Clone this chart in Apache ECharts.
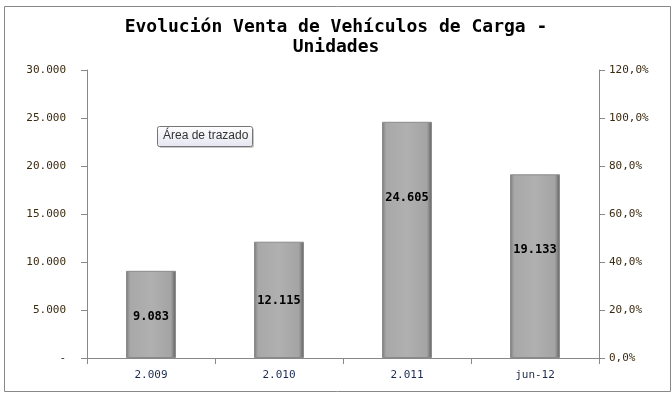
<!DOCTYPE html>
<html><head><meta charset="utf-8">
<script src="https://cdn.jsdelivr.net/npm/echarts@6/dist/echarts.min.js"></script>
<style>html,body{margin:0;padding:0;background:#fff}#c{width:672px;height:393px}</style>
</head><body><div id="c"></div>
<script>
var categories = ['2.009', '2.010', '2.011', 'jun-12'];
var unidades = [9083, 12115, 24605, 19133];
var leftTicks = { min: 0, max: 30000, interval: 5000 };
var rightTicks = { min: 0, max: 1.2, interval: 0.2 };
var titleText = 'Evolución Venta de Vehículos de Carga -\nUnidades';

function fmtThousands(v) {
  if (v === 0) return '-';
  return String(Math.round(v)).replace(/\B(?=(\d{3})+(?!\d))/g, '.');
}
var labelOffsets = [[0, 2], [0, 1], [0, -42], [0, -16]];
var mono = '"DejaVu Sans Mono", monospace';

var chart = echarts.init(document.getElementById('c'), null, { renderer: 'canvas' });
chart.setOption({
  animation: false,
  backgroundColor: '#fff',
  title: {
    text: titleText, left: 'center', top: 12,
    textStyle: { fontFamily: mono, fontSize: 18, fontWeight: 'bold', color: '#000', lineHeight: 20 }
  },
  grid: { left: 87, right: 73, top: 70, bottom: 35 },
  xAxis: {
    type: 'category', data: categories,
    axisLine: { lineStyle: { color: '#888' } },
    axisTick: { show: true, alignWithLabel: false, length: 6, lineStyle: { color: '#888' } },
    axisLabel: { fontFamily: mono, fontSize: 11, color: '#1a2a50', margin: 12 }
  },
  yAxis: [{
    type: 'value', min: leftTicks.min, max: leftTicks.max, interval: leftTicks.interval,
    splitLine: { show: false },
    axisLine: { show: true, lineStyle: { color: '#888' } },
    axisTick: { show: true, length: 6, lineStyle: { color: '#888' } },
    axisLabel: { fontFamily: mono, fontSize: 11, color: '#3a2a10', margin: 21, formatter: fmtThousands }
  }, {
    type: 'value', min: rightTicks.min, max: rightTicks.max, interval: rightTicks.interval,
    splitLine: { show: false },
    axisLine: { show: true, lineStyle: { color: '#888' } },
    axisTick: { show: true, length: 6, lineStyle: { color: '#888' } },
    axisLabel: { fontFamily: mono, fontSize: 11, color: '#3a2a10', margin: 10,
      formatter: function (v) { return (v * 100).toFixed(1).replace('.', ',') + '%'; } }
  }],
  series: [{
    type: 'bar', yAxisIndex: 0, barWidth: '39%',
    data: unidades.map(function (v, i) {
      return { value: v, label: { offset: labelOffsets[i] } };
    }),
    itemStyle: {
      color: {
        type: 'linear', x: 0, y: 0, x2: 1, y2: 0,
        colorStops: [
          { offset: 0, color: '#7a7a7a' }, { offset: 0.08, color: '#a8a8a8' },
          { offset: 0.5, color: '#b0b0b0' }, { offset: 0.9, color: '#a4a4a4' },
          { offset: 1, color: '#5e5e5e' }
        ]
      },
      borderColor: '#8a8a8a', borderWidth: 1
    },
    label: {
      show: true, position: 'inside', fontFamily: mono, fontSize: 12, fontWeight: 'bold', color: '#000',
      formatter: function (p) { return fmtThousands(p.value); }
    }
  }],
  graphic: [
    { type: 'rect', left: 2, top: 4, shape: { width: 666, height: 385 }, style: { fill: 'none', stroke: '#888', lineWidth: 1 }, silent: true },
    { type: 'rect', left: 159, top: 128, shape: { width: 95, height: 20, r: 2 }, style: { fill: '#c8c8c8' }, silent: true },
    { type: 'rect', left: 157, top: 126, shape: { width: 95, height: 20, r: 2 },
      style: { fill: { type: 'linear', x: 0, y: 0, x2: 0, y2: 1, colorStops: [{ offset: 0, color: '#ffffff' }, { offset: 1, color: '#e4e5f0' }] }, stroke: '#767676', lineWidth: 1 }, silent: true },
    { type: 'text', left: 163, top: 130, style: { text: 'Área de trazado', fontFamily: '"Liberation Sans", Arial, sans-serif', fontSize: 12, fill: '#333' }, silent: true }
  ]
});
</script></body></html>
